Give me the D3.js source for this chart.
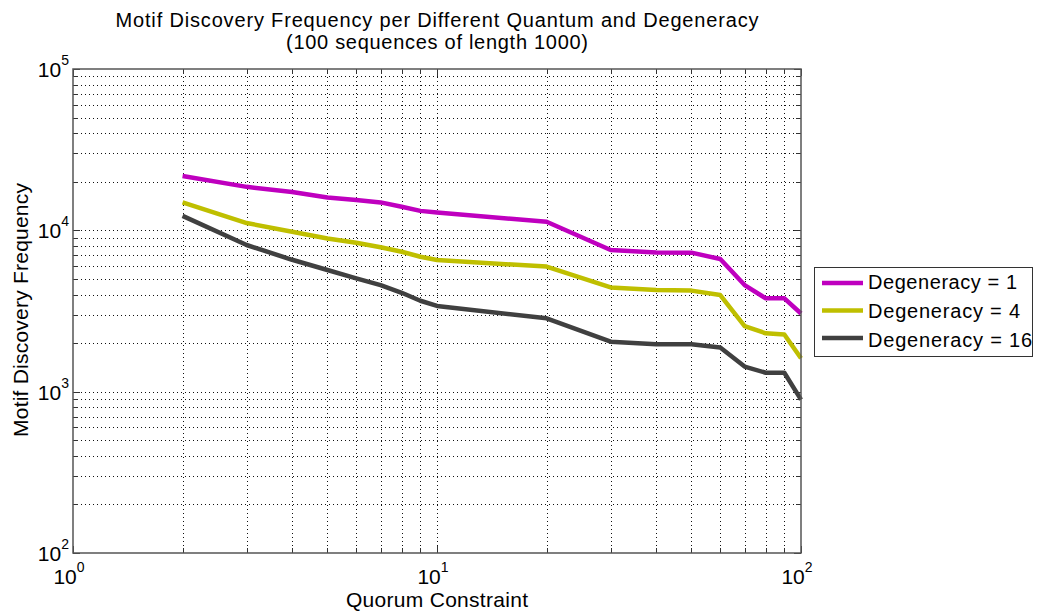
<!DOCTYPE html>
<html><head><meta charset="utf-8">
<script src="https://cdn.jsdelivr.net/npm/d3@7"></script>
<style>body{margin:0;background:#fff}svg{font-family:Arial,"Liberation Sans",sans-serif}</style>
</head><body><svg id="c" width="1038" height="613"></svg>
<script>
const quorum = [2,3,4,5,6,7,8,9,10,20,30,40,50,60,70,80,90,100];
const deg1  = [21700,18600,17300,16000,15400,14900,14000,13200,12900,11300,7550,7300,7270,6640,4580,3790,3790,3050];
const deg4  = [14900,11100,9800,8900,8370,7850,7370,6860,6550,5960,4430,4270,4230,3970,2550,2300,2260,1610];
const deg16 = [12300,8110,6570,5680,5040,4580,4100,3660,3400,2850,2040,1970,1970,1880,1430,1310,1310,893];
const seriesNames = ["Degeneracy = 1","Degeneracy = 4","Degeneracy = 16"];
const seriesColors = ["#bf00bf","#bfbf00","#404040"];
const xTickExps = [0,1,2];
const yTickExps = [2,3,4,5];
const titleLines = ["Motif Discovery Frequency per Different Quantum and Degeneracy","(100 sequences of length 1000)"];
const xLabel = "Quorum Constraint", yLabel = "Motif Discovery Frequency";

const svg = d3.select("#c");
const L=73,R=801,T=69,B=553;
const x = d3.scaleLog().domain([1,100]).range([L,R]);
const y = d3.scaleLog().domain([100,100000]).range([B,T]);

function widen(sel, target){
  sel.each(function(){ this.setAttribute("textLength", target); this.setAttribute("lengthAdjust","spacing"); });
}

const xMinor=[],yMinor=[];
for(let d=1;d<100;d*=10)for(let k=2;k<=9;k++)xMinor.push(d*k);
for(let d=100;d<100000;d*=10)for(let k=2;k<=9;k++)yMinor.push(d*k);
const xMajor=xTickExps.map(e=>Math.pow(10,e)), yMajor=yTickExps.map(e=>Math.pow(10,e));

const g=svg.append("g");
const gridStyle=s=>s.attr("stroke","#111").attr("stroke-width",1).attr("stroke-dasharray","1,3").attr("shape-rendering","crispEdges");
g.selectAll(".gx").data(xMinor.concat(xMajor.slice(1,-1))).enter().append("line")
 .attr("x1",d=>Math.round(x(d))+0.5).attr("x2",d=>Math.round(x(d))+0.5).attr("y1",T).attr("y2",B).call(gridStyle);
g.selectAll(".gy").data(yMinor.concat(yMajor.slice(1,-1))).enter().append("line")
 .attr("y1",d=>Math.round(y(d))+0.5).attr("y2",d=>Math.round(y(d))+0.5).attr("x1",L).attr("x2",R).call(gridStyle);

const tk=(s)=>s.attr("stroke","#333").attr("stroke-width",1).attr("shape-rendering","crispEdges");
const xt=xMinor.concat(xMajor);
g.selectAll(".tb").data(xt).enter().append("line").attr("x1",d=>Math.round(x(d))+0.5).attr("x2",d=>Math.round(x(d))+0.5).attr("y1",B).attr("y2",d=>B-(xMajor.includes(d)?7:5)).call(tk);
g.selectAll(".tt").data(xt).enter().append("line").attr("x1",d=>Math.round(x(d))+0.5).attr("x2",d=>Math.round(x(d))+0.5).attr("y1",T).attr("y2",d=>T+(xMajor.includes(d)?7:5)).call(tk);
const yt=yMinor.concat(yMajor);
g.selectAll(".tl").data(yt).enter().append("line").attr("y1",d=>Math.round(y(d))+0.5).attr("y2",d=>Math.round(y(d))+0.5).attr("x1",L).attr("x2",d=>L+(yMajor.includes(d)?7:5)).call(tk);
g.selectAll(".tr").data(yt).enter().append("line").attr("y1",d=>Math.round(y(d))+0.5).attr("y2",d=>Math.round(y(d))+0.5).attr("x1",R).attr("x2",d=>R-(yMajor.includes(d)?7:5)).call(tk);

const series=[deg1,deg4,deg16];
const line=d3.line().x(d=>x(d[0])).y(d=>y(d[1]));
series.forEach((s,i)=>{
  g.append("path").datum(quorum.map((q,j)=>[q,s[j]])).attr("d",line)
   .attr("fill","none").attr("stroke",seriesColors[i]).attr("stroke-width",4.5).attr("stroke-linejoin","round");
});

g.append("rect").attr("x",L).attr("y",T).attr("width",R-L).attr("height",B-T).attr("fill","none").attr("stroke","#555").attr("stroke-width",1.5);

xMajor.forEach((v,i)=>{
  const t=svg.append("text").attr("x",x(v)-4).attr("y",584).attr("text-anchor","middle").attr("font-size",21).attr("fill","#000");
  t.append("tspan").text("10");
  t.append("tspan").attr("dy",-12).attr("font-size",14).text(xTickExps[i]);
});
yMajor.forEach((v,i)=>{
  const t=svg.append("text").attr("x",L-4).attr("y",y(v)+8).attr("text-anchor","end").attr("font-size",21).attr("fill","#000");
  t.append("tspan").text("10");
  t.append("tspan").attr("dy",-12).attr("font-size",14).text(yTickExps[i]);
});

const titleW=[643,302];
titleLines.forEach((s,i)=>svg.append("text").attr("x",(L+R)/2).attr("y",27+i*22).attr("text-anchor","middle").attr("font-size",20).text(s).call(widen,titleW[i]));
svg.append("text").attr("x",(L+R)/2).attr("y",607).attr("text-anchor","middle").attr("font-size",21).text(xLabel).call(widen,182);
svg.append("text").attr("transform",`translate(28,${310}) rotate(-90)`).attr("text-anchor","middle").attr("font-size",21).text(yLabel).call(widen,254);

const legW=[149,152,164];
const lg=svg.append("g");
lg.append("rect").attr("x",814.5).attr("y",267.5).attr("width",218).attr("height",89).attr("fill","#fff").attr("stroke","#333").attr("stroke-width",1);
seriesNames.forEach((n,i)=>{
  const yy=283+i*27.5;
  lg.append("line").attr("x1",822).attr("x2",863).attr("y1",yy).attr("y2",yy).attr("stroke",seriesColors[i]).attr("stroke-width",4.5);
  lg.append("text").attr("x",868).attr("y",289+i*29).attr("font-size",20).text(n).call(widen,legW[i]);
});
</script></body></html>
